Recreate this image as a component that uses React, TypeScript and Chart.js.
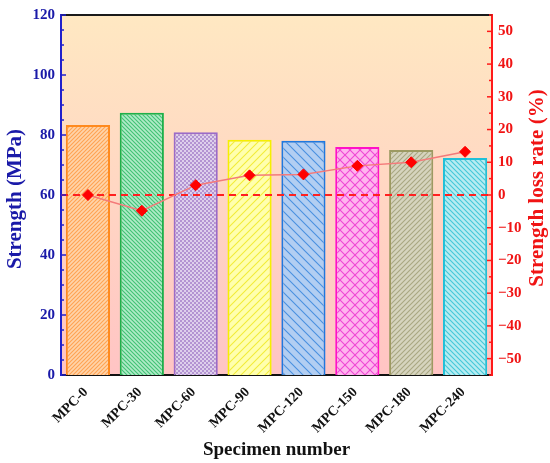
import React, { useEffect, useRef } from 'react';
import { Chart, registerables } from 'chart.js';

Chart.register(...registerables);

const categories = ['MPC-0', 'MPC-30', 'MPC-60', 'MPC-90', 'MPC-120', 'MPC-150', 'MPC-180', 'MPC-240'];
const strength = [83.3, 87.4, 80.9, 78.4, 78.1, 76.0, 75.0, 72.3];
const lossRate = [0, -4.8, 3.0, 6.0, 6.3, 8.9, 10.0, 13.2];
const leftTicks = [0, 20, 40, 60, 80, 100, 120];
const rightTicks = [-50, -40, -30, -20, -10, 0, 10, 20, 30, 40, 50];
const referenceLoss = 0;

type PatternStyle = { bg: string; fg: string; border: string; kind: 'fwd' | 'back' | 'cross' | 'checker'; size: number };

const barStyles: PatternStyle[] = [
  { bg: '#FFD4AA', fg: '#FFA352', border: '#FF8A1E', kind: 'fwd', size: 4 },
  { bg: '#B0EBC8', fg: '#40C274', border: '#1DB04A', kind: 'back', size: 4 },
  { bg: '#DED0EC', fg: '#B394D2', border: '#9B6BC8', kind: 'checker', size: 4 },
  { bg: '#FFFFAE', fg: '#F2EC3A', border: '#F5F000', kind: 'fwd', size: 8 },
  { bg: '#B2CEF2', fg: '#4A90E0', border: '#1E78E0', kind: 'back', size: 9 },
  { bg: '#FFB4EE', fg: '#F048D4', border: '#FF10C8', kind: 'cross', size: 10 },
  { bg: '#D6D4BE', fg: '#A9A782', border: '#9C9A62', kind: 'fwd', size: 5 },
  { bg: '#B6ECF2', fg: '#44C8D8', border: '#20C0D8', kind: 'back', size: 5 },
];

const FONT = '"Liberation Serif", "Times New Roman", serif';
const BLUE_TEXT = '#1A1AA8';
const BLUE_AXIS = '#2020CC';
const RED_TEXT = '#F01414';
const RED_AXIS = '#FF1A1A';

function makePattern(st: PatternStyle): CanvasPattern | string {
  const s = st.size;
  const c = document.createElement('canvas');
  c.width = s;
  c.height = s;
  const g = c.getContext('2d');
  if (!g) return st.bg;
  g.fillStyle = st.bg;
  g.fillRect(0, 0, s, s);
  if (st.kind === 'checker') {
    g.fillStyle = st.fg;
    g.fillRect(0, 0, s / 2, s / 2);
    g.fillRect(s / 2, s / 2, s / 2, s / 2);
  } else {
    g.strokeStyle = st.fg;
    g.lineWidth = 1.1;
    const fwd = () => {
      g.beginPath();
      g.moveTo(0, s);
      g.lineTo(s, 0);
      g.moveTo(-1, 1);
      g.lineTo(1, -1);
      g.moveTo(s - 1, s + 1);
      g.lineTo(s + 1, s - 1);
      g.stroke();
    };
    const back = () => {
      g.beginPath();
      g.moveTo(0, 0);
      g.lineTo(s, s);
      g.moveTo(-1, s - 1);
      g.lineTo(1, s + 1);
      g.moveTo(s - 1, -1);
      g.lineTo(s + 1, 1);
      g.stroke();
    };
    if (st.kind === 'fwd' || st.kind === 'cross') fwd();
    if (st.kind === 'back' || st.kind === 'cross') back();
  }
  const p = g.createPattern(c, 'repeat');
  return p || st.bg;
}

const fmt = (v: number) => (v < 0 ? '\u2212' + Math.abs(v) : String(v));

const decorPlugin = {
  id: 'decor',
  beforeDraw(chart: any) {
    const { ctx, chartArea: a } = chart;
    const grad = ctx.createLinearGradient(0, a.top, 0, a.bottom);
    grad.addColorStop(0, '#FFE8C2');
    grad.addColorStop(1, '#FFC4C4');
    ctx.save();
    ctx.fillStyle = grad;
    ctx.fillRect(a.left, a.top, a.right - a.left, a.bottom - a.top);
    ctx.restore();
  },
  afterDatasetDraw(chart: any, args: any) {
    if (args.meta.type !== 'bar') return;
    const { ctx, chartArea: a } = chart;
    const y = chart.scales.y1.getPixelForValue(referenceLoss);
    ctx.save();
    ctx.strokeStyle = '#FF2020';
    ctx.lineWidth = 2;
    ctx.setLineDash([7, 5]);
    ctx.beginPath();
    ctx.moveTo(a.left, y);
    ctx.lineTo(a.right, y);
    ctx.stroke();
    ctx.restore();
  },
  afterDraw(chart: any) {
    const { ctx, chartArea: a } = chart;
    const yL = chart.scales.y;
    const yR = chart.scales.y1;
    ctx.save();
    // top frame
    ctx.strokeStyle = '#1A1A1A';
    ctx.lineWidth = 2;
    ctx.beginPath();
    ctx.moveTo(a.left, a.top);
    ctx.lineTo(a.right, a.top);
    ctx.stroke();
    // inward ticks, left
    ctx.strokeStyle = BLUE_AXIS;
    ctx.lineWidth = 1.5;
    for (let v = yL.min; v <= yL.max; v += 5) {
      const y = yL.getPixelForValue(v);
      const len = v % 20 === 0 ? 5 : 3;
      ctx.beginPath();
      ctx.moveTo(a.left, y);
      ctx.lineTo(a.left + len, y);
      ctx.stroke();
    }
    // inward ticks, right
    ctx.strokeStyle = RED_AXIS;
    for (let v = -55; v <= 55; v += 5) {
      const y = yR.getPixelForValue(v);
      const len = v % 10 === 0 ? 5 : 3;
      ctx.beginPath();
      ctx.moveTo(a.right, y);
      ctx.lineTo(a.right - len, y);
      ctx.stroke();
    }
    // axis titles
    ctx.font = 'bold 21px ' + FONT;
    ctx.textAlign = 'center';
    ctx.textBaseline = 'middle';
    ctx.fillStyle = BLUE_TEXT;
    ctx.save();
    ctx.translate(15.5, 199);
    ctx.rotate(-Math.PI / 2);
    ctx.fillText('Strength (MPa)', 0, 0);
    ctx.restore();
    ctx.fillStyle = RED_TEXT;
    ctx.save();
    ctx.translate(538, 188);
    ctx.rotate(-Math.PI / 2);
    ctx.fillText('Strength loss rate (%)', 0, 0);
    ctx.restore();
    ctx.restore();
  },
};

export default function App() {
  const ref = useRef<HTMLCanvasElement | null>(null);

  useEffect(() => {
    if (!ref.current) return;
    const patterns = barStyles.map(makePattern);
    const chart = new Chart(ref.current, {
      type: 'bar',
      data: {
        labels: categories,
        datasets: [
          {
            type: 'bar',
            label: 'Strength',
            data: strength,
            yAxisID: 'y',
            backgroundColor: patterns as any,
            borderColor: barStyles.map((s) => s.border),
            borderWidth: 2,
            barPercentage: 0.82,
            categoryPercentage: 1,
            order: 2,
          },
          {
            type: 'line',
            label: 'Strength loss rate',
            data: lossRate,
            yAxisID: 'y1',
            borderColor: '#F47A7A',
            borderWidth: 1.5,
            pointStyle: 'rectRot',
            pointRadius: 5.5,
            pointBackgroundColor: '#FF0000',
            pointBorderColor: '#FF0000',
            pointBorderWidth: 1,
            tension: 0,
            order: 1,
          } as any,
        ],
      },
      options: {
        responsive: false,
        animation: false,
        devicePixelRatio: 1,
        layout: { padding: { top: 11, left: 0, right: 0, bottom: 0 } },
        plugins: { legend: { display: false }, tooltip: { enabled: false } },
        scales: {
          x: {
            type: 'category',
            offset: true,
            grid: { display: false },
            border: { display: true, color: '#111111', width: 2 },
            ticks: {
              color: '#111111',
              font: { family: FONT, size: 14, weight: 'bold' },
              maxRotation: 45,
              minRotation: 45,
              padding: 1,
              labelOffset: -2,
              autoSkip: false,
            },
            title: {
              display: true,
              text: 'Specimen number',
              color: '#111111',
              font: { family: FONT, size: 19, weight: 'bold' },
              padding: { top: 0, bottom: 2 },
            },
            afterFit: (s: any) => {
              s.height = 88;
            },
          },
          y: {
            type: 'linear',
            position: 'left',
            min: 0,
            max: 120,
            grid: { display: false, drawTicks: false },
            border: { display: true, color: BLUE_AXIS, width: 2 },
            ticks: {
              color: BLUE_TEXT,
              font: { family: FONT, size: 15, weight: 'bold' },
              padding: 6,
              callback: (v: any) => fmt(Number(v)),
            },
            afterBuildTicks: (s: any) => {
              s.ticks = leftTicks.map((v) => ({ value: v }));
            },
            afterFit: (s: any) => {
              s.width = 61;
            },
          },
          y1: {
            type: 'linear',
            position: 'right',
            min: -55,
            max: 55,
            grid: { display: false, drawTicks: false },
            border: { display: true, color: RED_AXIS, width: 2 },
            ticks: {
              color: RED_TEXT,
              font: { family: FONT, size: 15, weight: 'bold' },
              padding: 6,
              callback: (v: any) => fmt(Number(v)),
            },
            afterBuildTicks: (s: any) => {
              s.ticks = rightTicks.map((v) => ({ value: v }));
            },
            afterFit: (s: any) => {
              s.width = 58;
            },
          },
        },
      } as any,
      plugins: [decorPlugin as any],
    });
    return () => chart.destroy();
  }, []);

  return (
    <div style={{ position: 'fixed', left: 0, top: 0, width: 550, height: 463, background: '#ffffff' }}>
      <canvas ref={ref} width={550} height={463} style={{ display: 'block', width: 550, height: 463 }} />
    </div>
  );
}
